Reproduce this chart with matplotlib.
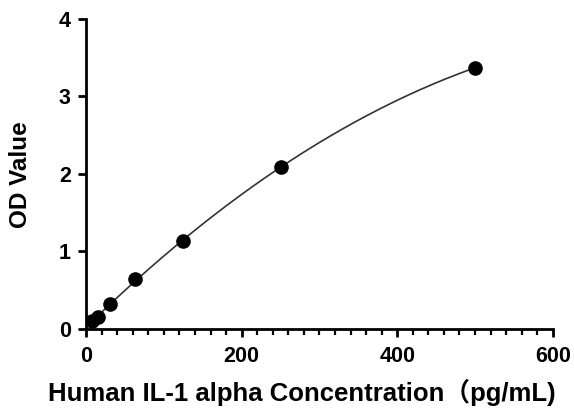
import matplotlib.pyplot as plt
from matplotlib.ticker import MultipleLocator
import numpy as np

plt.rcParams['font.family'] = ['Liberation Sans', 'Noto Sans CJK SC', 'DejaVu Sans']
plt.rcParams['font.weight'] = 'bold'

conc = [7.8, 15.6, 31.25, 62.5, 125, 250, 500]
od = [0.10, 0.16, 0.32, 0.65, 1.13, 2.09, 3.37]

# smooth standard curve through the points
coef = np.polyfit(conc, od, 2)
xs = np.linspace(5, 500, 300)
ys = np.polyval(coef, xs)

fig = plt.figure(figsize=(5.74, 4.11), dpi=100)
ax = fig.add_axes([0.15, 0.1995, 0.813, 0.7545])
ax.plot(xs, ys, color='#333333', lw=1.2)
ax.plot(conc, od, 'o', color='black', ms=9.5)

ax.set_xlim(0, 600)
ax.set_ylim(0, 4)
ax.set_xticks([0, 200, 400, 600])
ax.set_yticks([0, 1, 2, 3, 4])
ax.xaxis.set_minor_locator(MultipleLocator(20))
for s in ['top', 'right']:
    ax.spines[s].set_visible(False)
for s in ['left', 'bottom']:
    ax.spines[s].set_linewidth(2)
ax.tick_params(which='major', length=6, width=2, labelsize=15.5, pad=6)
ax.tick_params(axis='y', which='major', pad=5)
ax.tick_params(which='minor', length=4, width=1.6)
ax.set_xlabel('Human IL-1 alpha Concentration（pg/mL)', fontsize=18.5, fontweight='bold')
ax.set_ylabel('OD Value', fontsize=17.5, fontweight='bold')
ax.xaxis.set_label_coords(0.463, -0.16)
ax.yaxis.set_label_coords(-0.115, 0.497)

plt.savefig('out.png', dpi=100)
